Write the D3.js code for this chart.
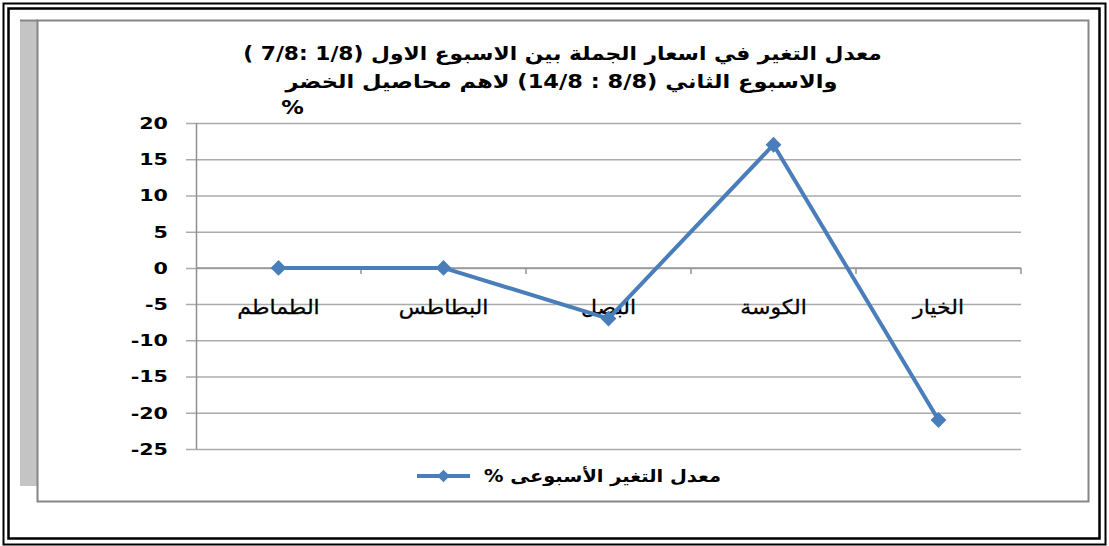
<!DOCTYPE html>
<html>
<head>
<meta charset="utf-8">
<script src="https://cdn.jsdelivr.net/npm/d3@7"></script>
<style>
  body { margin: 0; background: #fff; }
  svg { display: block; }
  text { font-family: "DejaVu Sans", "Liberation Sans", sans-serif; fill: #000; }
</style>
</head>
<body>
<div id="chart"></div>
<script>
// données
const categories = ["الطماطم", "البطاطس", "البصل", "الكوسة", "الخيار"];
const weeklyChange = [0, 0, -7, 17, -21];
const yTicks = [20, 15, 10, 5, 0, -5, -10, -15, -20, -25];
const titleLines = [
  "معدل التغير في اسعار الجملة بين الاسبوع الاول (1/8 :7/8 )",
  "والاسبوع الثاني (8/8 : 14/8) لاهم محاصيل الخضر",
  "%"
];
const seriesName = "معدل التغير الأسبوعى %";

const width = 1109, height = 546;
const blue = "#4a7ebb";
const gridColor = "#ababab";

const svg = d3.select("#chart").append("svg")
  .attr("width", width)
  .attr("height", height);

// cadre double noir
svg.append("rect").attr("x", 3.5).attr("y", 3.5).attr("width", 1102).attr("height", 541)
  .attr("fill", "none").attr("stroke", "#000").attr("stroke-width", 2);
svg.append("rect").attr("x", 8.5).attr("y", 8.5).attr("width", 1091).attr("height", 530)
  .attr("fill", "none").attr("stroke", "#000").attr("stroke-width", 2.5);

// bande grise à gauche + bord du graphique
svg.append("rect").attr("x", 20).attr("y", 20).attr("width", 17).attr("height", 466).attr("fill", "#c4c4c4");
svg.append("rect").attr("x", 37.5).attr("y", 20.5).attr("width", 1051).attr("height", 481)
  .attr("fill", "#fff").attr("stroke", "#868686").attr("stroke-width", 2);
svg.append("line").attr("x1", 20).attr("x2", 38).attr("y1", 20.5).attr("y2", 20.5)
  .attr("stroke", "#868686").attr("stroke-width", 2);

// échelles
const x = d3.scaleBand().domain(categories).range([196, 1021]);
const y = d3.scaleLinear().domain([-25, 20]).range([449, 123]);
const cx = d => x(d) + x.bandwidth() / 2;

// étire un texte horizontalement
function stretch(g, k) {
  g.attr("transform", g.attr("transform") + ` scale(${k},1)`);
}

// grille + étiquettes Y
const tickK = 1.38;
const yAxis = svg.append("g")
  .attr("transform", "translate(186,0)")
  .call(d3.axisLeft(y).tickValues(yTicks).tickSize(-(1021 - 186)).tickPadding(0)
    .tickFormat(d => String(d)));
yAxis.select(".domain").remove();
yAxis.selectAll(".tick line").attr("stroke", gridColor).attr("stroke-width", 1.5);
yAxis.selectAll(".tick text")
  .attr("x", -18 / tickK)
  .attr("dy", "0.36em")
  .attr("transform", `scale(${tickK},1)`)
  .style("font-family", "'DejaVu Sans', sans-serif")
  .style("font-size", "15px")
  .style("font-weight", "bold")
  .attr("fill", "#000");

// axe vertical
svg.append("line")
  .attr("x1", 196.5).attr("x2", 196.5)
  .attr("y1", y(20)).attr("y2", y(-25))
  .attr("stroke", "#8f8f8f").attr("stroke-width", 1.5);

// axe des catégories (à zéro)
svg.append("line")
  .attr("x1", 196).attr("x2", 1021)
  .attr("y1", y(0)).attr("y2", y(0))
  .attr("stroke", "#949494").attr("stroke-width", 1.5);
svg.selectAll(".cat-tick")
  .data(categories)
  .enter().append("line")
  .attr("x1", d => x(d) + x.bandwidth()).attr("x2", d => x(d) + x.bandwidth())
  .attr("y1", y(0)).attr("y2", y(0) + 6)
  .attr("stroke", "#949494").attr("stroke-width", 1.5);

// étiquettes des catégories
const catK = 1.1;
categories.forEach(c => {
  const g = svg.append("g").attr("transform", `translate(${cx(c)},314)`);
  g.append("text")
    .attr("text-anchor", "middle")
    .attr("direction", "rtl")
    .style("font-size", "20px")
    .style("stroke", "#000")
    .style("stroke-width", 0.3)
    .text(c);
  stretch(g, catK);
});

// série
const pts = categories.map((c, i) => [cx(c), y(weeklyChange[i])]);
svg.append("path")
  .attr("d", d3.line()(pts))
  .attr("fill", "none")
  .attr("stroke", blue)
  .attr("stroke-width", 4)
  .attr("stroke-linejoin", "round");

const diamond = d3.symbol(d3.symbolSquare, 125);
svg.selectAll(".pt")
  .data(pts)
  .enter().append("path")
  .attr("d", diamond)
  .attr("transform", d => `translate(${d[0]},${d[1]}) rotate(45)`)
  .attr("fill", blue);

// titre
const titleTargets = [[562.5, 60, 639], [561.5, 88, 553], [292.5, 114, null]];
let titleK = 1;
titleLines.forEach((t, i) => {
  const [tx, ty, tw] = titleTargets[i];
  const g = svg.append("g").attr("transform", `translate(${tx},${ty})`);
  const txt = g.append("text")
    .attr("text-anchor", "middle")
    .attr("direction", "rtl")
    .style("font-size", "19px")
    .style("font-weight", "bold")
    .text(t);
  if (tw) titleK = tw / txt.node().getBBox().width;
  stretch(g, titleK);
});

// légende
const legY = 476;
svg.append("line")
  .attr("x1", 417).attr("x2", 470)
  .attr("y1", legY).attr("y2", legY)
  .attr("stroke", blue).attr("stroke-width", 4);
svg.append("path")
  .attr("d", d3.symbol(d3.symbolSquare, 80))
  .attr("transform", `translate(443.5,${legY}) rotate(45)`)
  .attr("fill", blue);
const lg = svg.append("g").attr("transform", `translate(602.5,${legY + 6})`);
const lt = lg.append("text")
  .attr("text-anchor", "middle")
  .attr("direction", "rtl")
  .style("font-size", "17px")
  .style("font-weight", "bold")
  .text(seriesName);
stretch(lg, 237 / lt.node().getBBox().width);
</script>
</body>
</html>
